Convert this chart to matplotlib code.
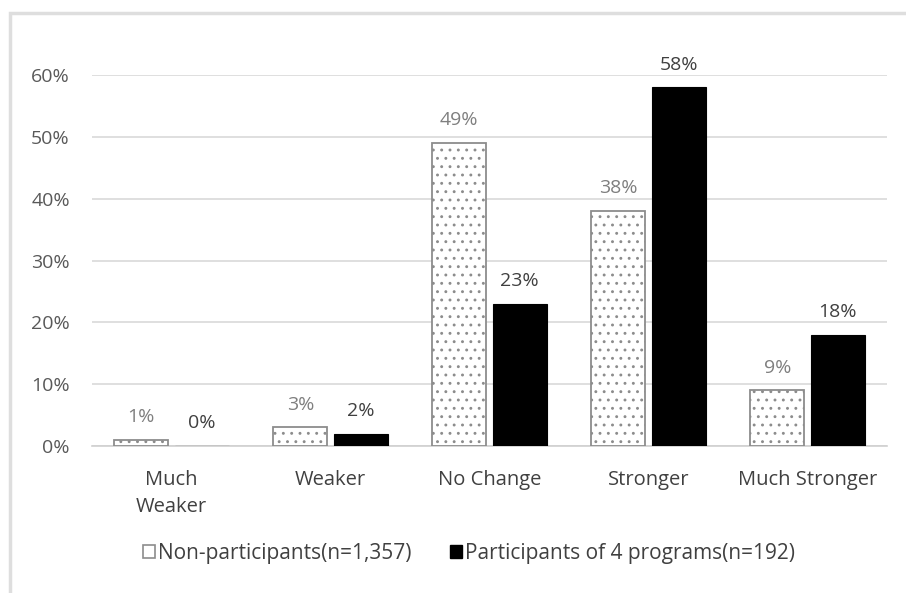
import matplotlib
matplotlib.use("Agg")
import matplotlib.pyplot as plt
from matplotlib.patches import Patch, Rectangle
import numpy as np

categories = ["Much\nWeaker", "Weaker", "No Change", "Stronger", "Much Stronger"]
non_participants = [1, 3, 49, 38, 9]
participants = [0, 2, 23, 58, 18]
series_names = ["Non-participants(n=1,357)", "Participants of 4 programs(n=192)"]
y_ticks = [0, 10, 20, 30, 40, 50, 60]

plt.rcParams['font.family'] = ['Open Sans', 'DejaVu Sans']
plt.rcParams['hatch.linewidth'] = 0.9
plt.rcParams['hatch.color'] = '#ababab'

fig = plt.figure(figsize=(9.06, 5.93), dpi=100)
ax = fig.add_axes([92/906, (593-446)/593, (887-92)/906, (446-75)/593])

# light frame around the chart area
fig.patches.append(Rectangle((10/906, -0.05), 1.0, (593-13)/593 + 0.05,
                             transform=fig.transFigure, fill=False,
                             edgecolor='#dedede', linewidth=2.5))

x = np.arange(len(categories))
w = 0.34
gap = 0.04
off = (w + gap) / 2

ax.bar(x - off, non_participants, width=w, color='white',
       edgecolor='#8c8c8c', linewidth=1.3, hatch='..', zorder=3)
ax.bar(x + off, participants, width=w, color='black',
       edgecolor='black', linewidth=0.8, zorder=3)

for xi, v in zip(x - off, non_participants):
    ax.text(xi, v + 2.2, f"{v}%", ha='center', va='bottom',
            fontsize=14, color='#7f7f7f', clip_on=False)
for xi, v in zip(x + off, participants):
    ax.text(xi, v + 2.2, f"{v}%", ha='center', va='bottom',
            fontsize=14, color='#404040', clip_on=False)

ax.set_xlim(-0.5, len(categories) - 0.5)
ax.set_ylim(0, 60)
ax.set_yticks(y_ticks)
ax.set_yticklabels([f"{t}%" for t in y_ticks], fontsize=14, color='#595959')
ax.set_xticks(x)
ax.set_xticklabels(categories, fontsize=14.5, color='#404040', va='top',
                   linespacing=1.5)
ax.tick_params(axis='both', length=0)
ax.tick_params(axis='y', pad=16)
ax.tick_params(axis='x', pad=17)

ax.grid(axis='y', color='#d9d9d9', linewidth=1.2, zorder=0)
for s in ['top', 'right', 'left']:
    ax.spines[s].set_visible(False)
ax.spines['bottom'].set_color('#d0d0d0')
ax.spines['bottom'].set_linewidth(1.2)
ax.set_axisbelow(True)

handles = [
    Patch(facecolor='white', edgecolor='#8c8c8c', linewidth=1.2),
    Patch(facecolor='black', edgecolor='black'),
]
leg = fig.legend(handles, series_names, loc='center',
                 bbox_to_anchor=(469/906, (593-553)/593), ncol=2,
                 frameon=False, fontsize=15, handlelength=0.6,
                 handleheight=0.6, handletextpad=0.15, columnspacing=1.8)
for t in leg.get_texts():
    t.set_color('#404040')

fig.savefig("out.png", dpi=100, facecolor='white')
